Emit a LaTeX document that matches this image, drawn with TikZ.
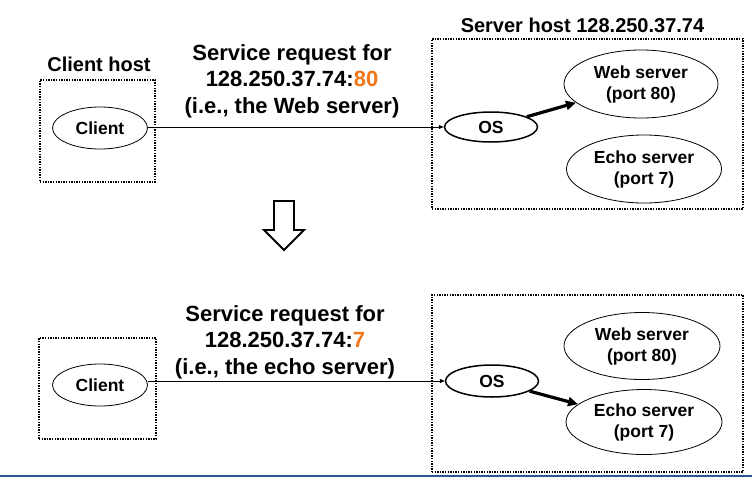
\documentclass[tikz,border=0pt]{standalone}
\usepackage{fontspec}
\setmainfont{Liberation Sans}
\usetikzlibrary{shapes.geometric,arrows.meta}
\definecolor{portorange}{RGB}{240,118,28}
\definecolor{slideblue}{RGB}{46,84,150}

\begin{document}
\begin{tikzpicture}[x=1pt,y=-1pt,
    hostbox/.style={draw, line width=1.4pt, dash pattern=on 1.4pt off 1.2pt, inner sep=0pt},
    proc/.style={draw, ellipse, line width=0.8pt, inner sep=0pt, align=center,
        font=\fontsize{17.5}{21}\selectfont\bfseries},
    oscall/.style={proc, line width=1.5pt},
    hostlabel/.style={anchor=base, font=\fontsize{20}{24}\selectfont\bfseries},
    reqlabel/.style={anchor=base, align=center, font=\fontsize{22}{26.5}\selectfont\bfseries},
    request/.style={-{Triangle[length=5pt,width=4pt]}, line width=0.9pt},
    dispatch/.style={-{Triangle[length=10pt,width=9pt]}, line width=3.2pt}]
                \useasboundingbox (0,0) rectangle (752,480);
                % Top: request for port 80
                \node[hostbox, minimum width=115, minimum height=102] (chost1) at (97.5,131) {};
                \node[hostlabel] (chostlabel1) at (99,71) {Client host};
                \node[proc, minimum width=95, minimum height=42] (client1) at (100,128) {Client};
                \node[hostbox, minimum width=311, minimum height=170] (shost1) at (587.5,124) {};
                \node[hostlabel] (shostlabel1) at (582.5,32) {Server host 128.250.37.74};
                \node[oscall, minimum width=93, minimum height=30] (os1) at (491,127) {OS};
                \node[proc, minimum width=154, minimum height=68] (web1) at (641,84) {Web server\\(port 80)};
                \node[proc, minimum width=155, minimum height=68] (echo1) at (644,169) {Echo server\\(port 7)};
                \node[reqlabel] (req1) at (292,113) {Service request for\\128.250.37.74:\textcolor{portorange}{80}\\(i.e., the Web server)};
                \draw[request] (client1.east |- os1.west) -- (os1.west);
                \draw[dispatch] (os1) -- (web1);
                % Block arrow between the two cases
                \draw[line width=1.8pt, line join=miter] (274,201) -- (294,201) -- (294,230) -- (304,230)
                    -- (284,250) -- (264,230) -- (274,230) -- cycle;
                % Bottom: request for port 7
                \node[hostbox, minimum width=117, minimum height=101] (chost2) at (97.5,388.5) {};
                \node[proc, minimum width=95, minimum height=42] (client2) at (100,385) {Client};
                \node[hostbox, minimum width=311, minimum height=177] (shost2) at (587.5,383.5) {};
                \node[oscall, minimum width=93, minimum height=32] (os2) at (492,381) {OS};
                \node[proc, minimum width=156, minimum height=67] (web2) at (642,346) {Web server\\(port 80)};
                \node[proc, minimum width=156, minimum height=65] (echo2) at (644,422) {Echo server\\(port 7)};
                \node[reqlabel] (req2) at (285,374) {Service request for\\128.250.37.74:\textcolor{portorange}{7}\\(i.e., the echo server)};
                \draw[request] (client2.east |- os2.west) -- (os2.west);
                \draw[dispatch] (os2) -- (echo2);
                % Slide rule
                \draw[slideblue, line width=2.2pt] (0,476) -- (752,476);
            \end{tikzpicture}
\end{document}
